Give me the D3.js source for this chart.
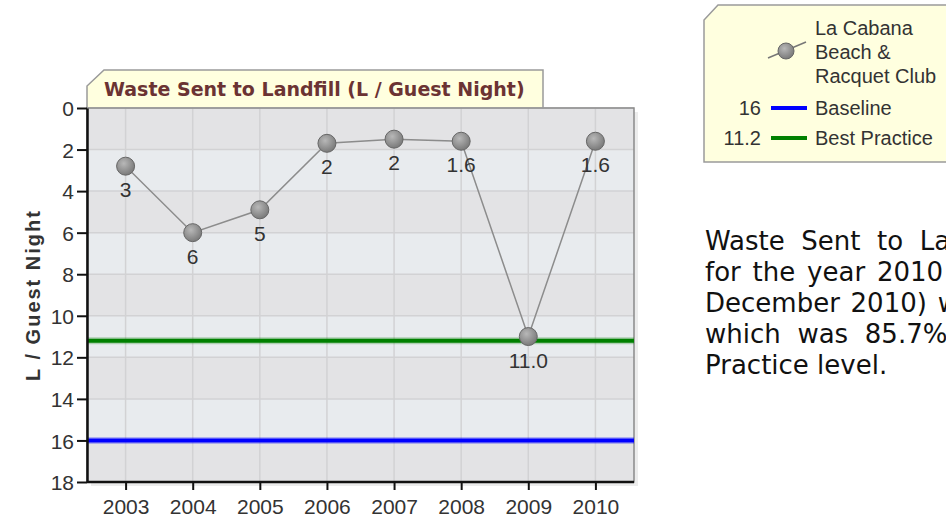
<!DOCTYPE html>
<html>
<head>
<meta charset="utf-8">
<script src="https://cdn.jsdelivr.net/npm/d3@7"></script>
<style>
  body { margin: 0; width: 946px; height: 518px; overflow: hidden; background: #fff; position: relative; }
  svg { position: absolute; left: 0; top: 0; }
  .para { position: absolute; left: 705px; top: 226px; width: 548px; font-family: "DejaVu Sans", Verdana, sans-serif;
          font-size: 26px; line-height: 31px; color: #111; }
  .para div { text-align: justify; text-align-last: justify; white-space: nowrap; }
  .para div.last { text-align-last: left; }
</style>
</head>
<body>
<script>
// waste sent to landfill, litres per guest night
var years = ['2003', '2004', '2005', '2006', '2007', '2008', '2009', '2010'];
var waste = [2.8, 6.0, 4.9, 1.7, 1.5, 1.6, 11.0, 1.6];
var wasteLabels = ['3', '6', '5', '2', '2', '1.6', '11.0', '1.6'];
var yTicks = [0, 2, 4, 6, 8, 10, 12, 14, 16, 18];
var refLines = [
    {name: 'Baseline', value: 16, color: '#0000ff'},
    {name: 'Best Practice', value: 11.2, color: '#008000'}
];
var seriesName = ['La Cabana', 'Beach &', 'Racquet Club'];
var paraLines = [
    'Waste Sent to Landfill per Guest Night',
    'for the year 2010 (1 January 2010 to 31',
    'December 2010) was 1.6 L / Guest Night',
    'which was 85.7% better than the Best',
    'Practice level.'
];

var width = 946, height = 518;
var plotL = 87, plotR = 634, plotT = 108, plotB = 482;

var svg = d3.select('body').append('svg')
    .attr('width', width)
    .attr('height', height);

var defs = svg.append('defs');
var grad = defs.append('radialGradient').attr('id', 'ball')
    .attr('cx', '40%').attr('cy', '35%').attr('r', '65%');
grad.append('stop').attr('offset', '0%').attr('stop-color', '#b8b8b8');
grad.append('stop').attr('offset', '100%').attr('stop-color', '#7a7a7a');

var x = d3.scalePoint().domain(years).range([plotL, plotR]).padding(0.575);
var y = d3.scaleLinear().domain([0, 18]).range([plotT, plotB]);

// title tab
svg.append('path')
    .attr('d', 'M87,' + (plotT + 1) + ' L87,86 L104,70 L543,70 L543,' + (plotT + 1) + ' Z')
    .attr('fill', '#ffffdf')
    .attr('stroke', '#9a9a9a')
    .attr('stroke-width', 1.5);
svg.append('text')
    .attr('x', 104).attr('y', 96)
    .attr('font-family', 'DejaVu Sans, Verdana, sans-serif')
    .attr('font-weight', 'bold')
    .attr('font-size', '19px')
    .attr('fill', '#6b3333')
    .text('Waste Sent to Landfill (L / Guest Night)');

// shadow + plot background with bands
svg.append('rect')
    .attr('x', plotL + 4).attr('y', plotT + 4)
    .attr('width', plotR - plotL).attr('height', plotB - plotT)
    .attr('fill', '#ececec');
svg.append('g').selectAll('rect')
    .data(yTicks.slice(0, -1))
    .enter().append('rect')
    .attr('x', plotL)
    .attr('y', d => y(d))
    .attr('width', plotR - plotL)
    .attr('height', d => y(d + 2) - y(d))
    .attr('fill', (d, i) => i % 2 == 0 ? '#e3e3e5' : '#e8ebee');

// grid
svg.append('g').selectAll('line')
    .data(yTicks)
    .enter().append('line')
    .attr('x1', plotL).attr('x2', plotR)
    .attr('y1', d => y(d)).attr('y2', d => y(d))
    .attr('stroke', '#d2d2d4').attr('stroke-width', 1.5);
svg.append('g').selectAll('line')
    .data(years)
    .enter().append('line')
    .attr('x1', d => x(d)).attr('x2', d => x(d))
    .attr('y1', plotT).attr('y2', plotB)
    .attr('stroke', '#d2d2d4').attr('stroke-width', 1.5);

// plot frame
svg.append('rect')
    .attr('x', plotL).attr('y', plotT)
    .attr('width', plotR - plotL).attr('height', plotB - plotT)
    .attr('fill', 'none')
    .attr('stroke', '#8a8a8a').attr('stroke-width', 1.5);

// reference lines
refLines.forEach(function(r) {
    svg.append('line')
        .attr('x1', plotL).attr('x2', plotR)
        .attr('y1', y(r.value)).attr('y2', y(r.value))
        .attr('stroke', r.color).attr('stroke-opacity', 0.25).attr('stroke-width', 7);
    svg.append('line')
        .attr('x1', plotL).attr('x2', plotR)
        .attr('y1', y(r.value)).attr('y2', y(r.value))
        .attr('stroke', r.color).attr('stroke-width', 4);
});

// axes
var yAxis = d3.axisLeft(y).tickValues(yTicks).tickSize(10).tickPadding(3).tickSizeOuter(0);
var xAxis = d3.axisBottom(x).tickSize(8).tickPadding(9).tickSizeOuter(0);

var gy = svg.append('g').attr('transform', 'translate(' + plotL + ',0)').call(yAxis);
var gx = svg.append('g').attr('transform', 'translate(0,' + plotB + ')').call(xAxis);
gx.select('.domain').attr('d', 'M' + plotL + ',0H' + plotR);
[gx, gy].forEach(function(g) {
    g.select('.domain').attr('stroke', '#111').attr('stroke-width', 2.5);
    g.selectAll('.tick line').attr('stroke', '#111').attr('stroke-width', 2);
    g.selectAll('.tick text')
        .attr('font-family', 'Liberation Sans, Arial, sans-serif')
        .attr('font-size', '21px')
        .attr('fill', '#333');
});
gy.selectAll('.tick text').attr('dy', '0.36em');

svg.append('text')
    .attr('transform', 'translate(40,' + ((plotT + plotB) / 2) + ') rotate(-90)')
    .attr('text-anchor', 'middle')
    .attr('font-family', 'Liberation Sans, Arial, sans-serif')
    .attr('font-weight', 'bold')
    .attr('font-size', '20px')
    .attr('letter-spacing', '2px')
    .attr('fill', '#333')
    .text('L / Guest Night');

// series
var pts = years.map((d, i) => ({year: d, value: waste[i], label: wasteLabels[i]}));
var line = d3.line().x(d => x(d.year)).y(d => y(d.value));
svg.append('path')
    .datum(pts)
    .attr('d', line)
    .attr('fill', 'none')
    .attr('stroke', '#8c8c8c')
    .attr('stroke-width', 1.5);

svg.append('g').selectAll('circle')
    .data(pts)
    .enter().append('circle')
    .attr('cx', d => x(d.year))
    .attr('cy', d => y(d.value))
    .attr('r', 9)
    .attr('fill', 'url(#ball)')
    .attr('stroke', '#666')
    .attr('stroke-width', 1);

svg.append('g').selectAll('text')
    .data(pts)
    .enter().append('text')
    .attr('x', d => x(d.year))
    .attr('y', d => y(d.value) + 31)
    .attr('text-anchor', 'middle')
    .attr('font-family', 'Liberation Sans, Arial, sans-serif')
    .attr('font-size', '21px')
    .attr('fill', '#333')
    .text(d => d.label);

// legend
var lg = svg.append('g');
lg.append('path')
    .attr('d', 'M704,162 L704,20 L718,5 L960,5 L960,162 Z')
    .attr('fill', '#ffffdf')
    .attr('stroke', '#9a9a9a')
    .attr('stroke-width', 1.5);
lg.append('line')
    .attr('x1', 768).attr('y1', 58).attr('x2', 806).attr('y2', 42)
    .attr('stroke', '#777').attr('stroke-width', 1.5);
lg.append('circle')
    .attr('cx', 786).attr('cy', 51).attr('r', 8)
    .attr('fill', 'url(#ball)').attr('stroke', '#666');
lg.selectAll('.sname')
    .data(seriesName)
    .enter().append('text')
    .attr('class', 'sname')
    .attr('x', 815)
    .attr('y', (d, i) => 35 + i * 24)
    .attr('font-family', 'Liberation Sans, Arial, sans-serif')
    .attr('font-size', '20px')
    .attr('fill', '#333')
    .text(d => d);
var ref = lg.selectAll('.ref')
    .data(refLines)
    .enter().append('g')
    .attr('class', 'ref')
    .attr('transform', (d, i) => 'translate(0,' + (108 + i * 30) + ')');
ref.append('line')
    .attr('x1', 771).attr('x2', 807)
    .attr('stroke', d => d.color).attr('stroke-width', 4);
ref.append('text')
    .attr('x', 761).attr('y', 7)
    .attr('text-anchor', 'end')
    .attr('font-family', 'Liberation Sans, Arial, sans-serif')
    .attr('font-size', '20px')
    .attr('fill', '#333')
    .text(d => d.value);
ref.append('text')
    .attr('x', 815).attr('y', 7)
    .attr('font-family', 'Liberation Sans, Arial, sans-serif')
    .attr('font-size', '20px')
    .attr('fill', '#333')
    .text(d => d.name);

// description paragraph
d3.select('body').append('div')
    .attr('class', 'para')
    .selectAll('div')
    .data(paraLines)
    .enter().append('div')
    .attr('class', (d, i) => i == paraLines.length - 1 ? 'last' : null)
    .text(d => d);
</script>
</body>
</html>
